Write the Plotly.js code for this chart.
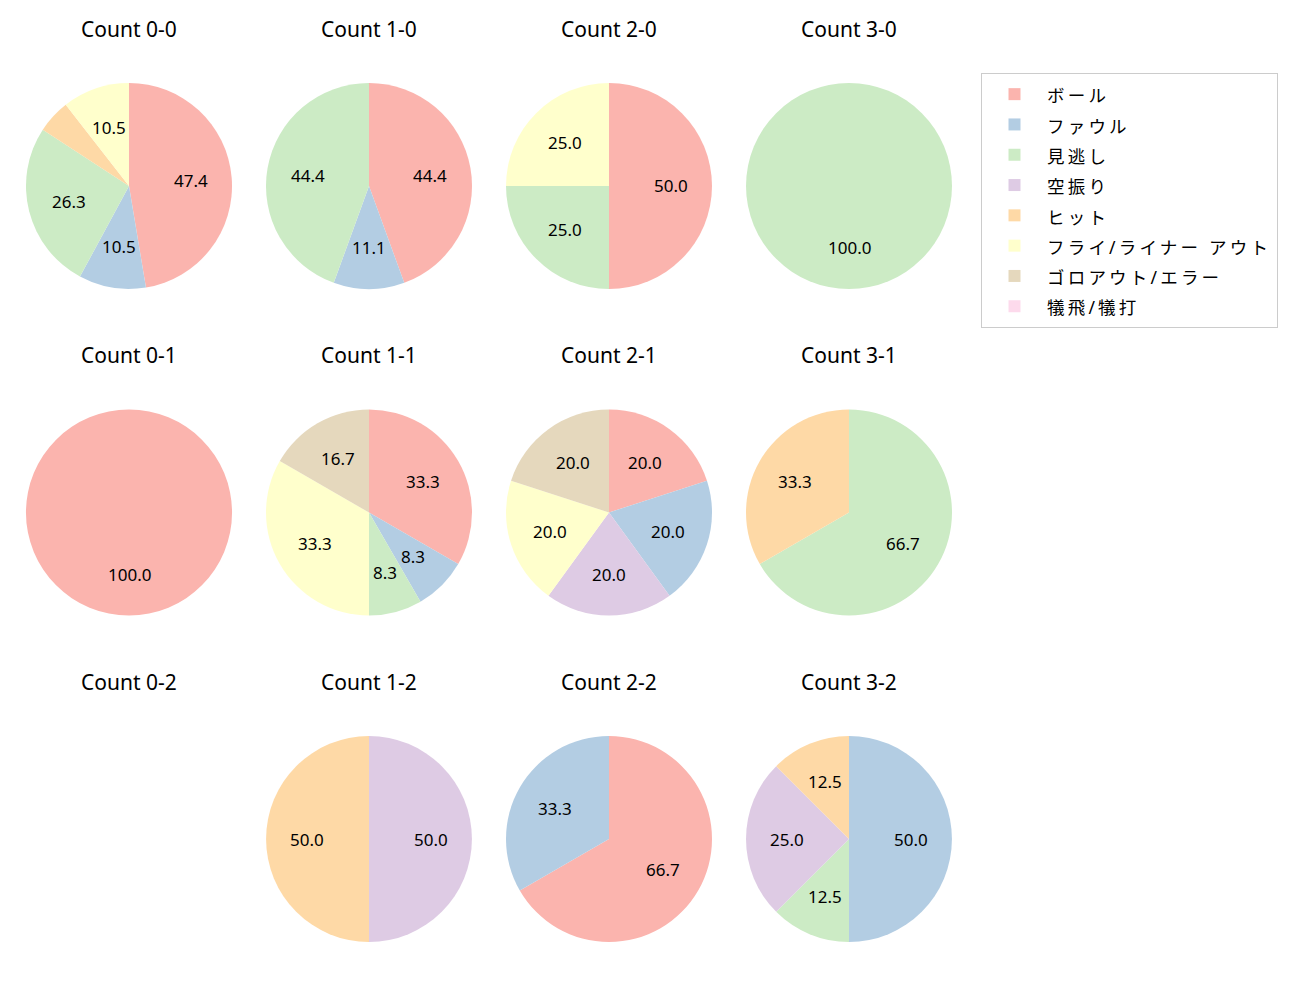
<!DOCTYPE html>
<html>
<head>
<meta charset="utf-8">
<script src="https://cdn.plot.ly/plotly-3.0.1.min.js"></script>
<style>
  body { margin: 0; background: #fff; }
  #plot { width: 1300px; height: 1000px; }
</style>
</head>
<body>
<div id="plot"></div>
<script>
// pitch result categories (legend order)
var categories = ['ボール', 'ファウル', '見逃し', '空振り', 'ヒット', 'フライ/ライナー アウト', 'ゴロアウト/エラー', '犠飛/犠打'];
var colors = ['#fbb4ae', '#b3cde3', '#ccebc5', '#decbe4', '#fed9a6', '#ffffcc', '#e5d8bd', '#fddaec'];

// counts per ball-strike situation, same order as categories
var count00 = [9, 2, 5, 0, 1, 2, 0, 0];
var count10 = [4, 1, 4, 0, 0, 0, 0, 0];
var count20 = [2, 0, 1, 0, 0, 1, 0, 0];
var count30 = [0, 0, 1, 0, 0, 0, 0, 0];
var count01 = [1, 0, 0, 0, 0, 0, 0, 0];
var count11 = [4, 1, 1, 0, 0, 4, 2, 0];
var count21 = [1, 1, 0, 1, 0, 1, 1, 0];
var count31 = [0, 0, 2, 0, 1, 0, 0, 0];
var count02 = [0, 0, 0, 0, 0, 0, 0, 0];
var count12 = [0, 0, 0, 1, 1, 0, 0, 0];
var count22 = [2, 1, 0, 0, 0, 0, 0, 0];
var count32 = [0, 4, 1, 2, 1, 0, 0, 0];

var panels = [
    {title: 'Count 0-0', values: count00}, {title: 'Count 1-0', values: count10},
    {title: 'Count 2-0', values: count20}, {title: 'Count 3-0', values: count30},
    {title: 'Count 0-1', values: count01}, {title: 'Count 1-1', values: count11},
    {title: 'Count 2-1', values: count21}, {title: 'Count 3-1', values: count31},
    {title: 'Count 0-2', values: count02}, {title: 'Count 1-2', values: count12},
    {title: 'Count 2-2', values: count22}, {title: 'Count 3-2', values: count32}
];

var W = 1300, H = 1000;
var colCenters = [129, 369, 609, 849];
var rowCenters = [186, 512.5, 839];
var radius = 103;

// legend rows are spaced by the 21px legend font, text drawn at 17.5px
var legendLabels = categories.map(function (c) {
    return '<span style="font-size:17.5px;letter-spacing:3.2px">' + c + '</span>';
});

var data = [];
var annotations = [];

panels.forEach(function (p, i) {
    var row = Math.floor(i / 4);
    var cx = colCenters[i % 4], cy = rowCenters[row];
    var total = p.values.reduce(function (a, b) { return a + b; }, 0);

    annotations.push({
        text: p.title, showarrow: false,
        x: cx / W, y: 1 - (29 + row * 326.5) / H,
        xref: 'paper', yref: 'paper', xanchor: 'center', yanchor: 'middle',
        font: {size: 21, color: '#000'}
    });

    if (total === 0) return;

    // percentage labels at 0.6 of the radius, like matplotlib autopct
    var cum = 0;
    p.values.forEach(function (v) {
        var pct = v / total * 100;
        var mid = (cum + v / 2) / total;
        cum += v;
        if (pct <= 6) return;
        var ang = Math.PI / 2 - mid * 2 * Math.PI;
        annotations.push({
            text: pct.toFixed(1), showarrow: false,
            x: (cx + 0.6 * radius * Math.cos(ang)) / W,
            y: 1 - (cy - 0.6 * radius * Math.sin(ang)) / H,
            xref: 'paper', yref: 'paper', xanchor: 'center', yanchor: 'middle',
            font: {size: 17, color: '#000'}
        });
    });

    data.push({
        type: 'pie',
        labels: legendLabels,
        values: p.values,
        textinfo: 'none',
        marker: {colors: colors, line: {width: 0}},
        sort: false,
        direction: 'clockwise',
        rotation: 0,
        hoverinfo: 'skip',
        showlegend: i === 0,
        domain: {
            x: [(cx - radius) / W, (cx + radius) / W],
            y: [1 - (cy + radius) / H, 1 - (cy - radius) / H]
        }
    });
});

var layout = {
    width: W,
    height: H,
    margin: {l: 0, r: 0, t: 0, b: 0},
    paper_bgcolor: '#fff',
    font: {family: '"Noto Sans", "Noto Sans CJK JP", sans-serif', color: '#000'},
    showlegend: true,
    legend: {
        x: 981 / W, y: 1 - 73 / H, xanchor: 'left', yanchor: 'top',
        bgcolor: '#fff', bordercolor: '#cccccc', borderwidth: 1,
        font: {size: 21}, itemwidth: 55, traceorder: 'normal'
    },
    annotations: annotations
};

Plotly.newPlot('plot', data, layout, {displayModeBar: false});
</script>
</body>
</html>
